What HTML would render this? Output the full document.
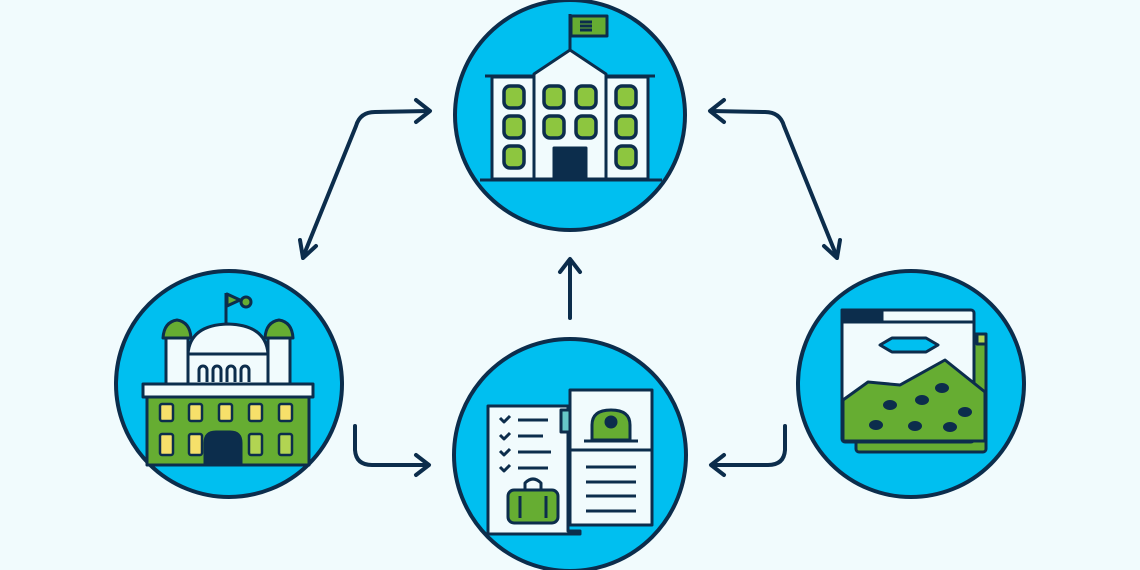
<!DOCTYPE html>
<html><head><meta charset="utf-8"><style>html,body{margin:0;padding:0;background:#f1fbfd}svg{display:block}</style></head><body>
<svg width="1140" height="570" viewBox="0 0 1140 570" xmlns="http://www.w3.org/2000/svg">
<rect width="1140" height="570" fill="#f1fbfd"/>
<g fill="none" stroke="#0c2d4c" stroke-width="4" stroke-linecap="round" stroke-linejoin="round">
<path d="M429 111 L375 112 Q360 112 356 126 L303 257"/><path d="M416 100 L430 111 L416 122"/><path d="M300 240 L303 258 L316 246"/>
<path d="M711 111 L765 112 Q780 112 784 126 L837 257"/><path d="M724 100 L710 111 L724 122"/><path d="M840 240 L837 258 L824 246"/>
<path d="M570 318 L570 260"/><path d="M560 272 L570 259 L580 272"/>
<path d="M355 426 L355 450 Q356 465 372 465 L428 465"/><path d="M416 455 L429 465 L416 475"/>
<path d="M785 426 L785 450 Q784 465 768 465 L712 465"/><path d="M724 455 L711 465 L724 475"/>
</g>
<g fill="#00bff0" stroke="#0c2d4c" stroke-width="4">
<circle cx="570" cy="115" r="115"/><circle cx="229" cy="384" r="113"/><circle cx="911" cy="384" r="113"/><circle cx="570" cy="455" r="116"/>
</g>
<g stroke="#0c2d4c" stroke-width="3" stroke-linejoin="round">
<line x1="570" y1="50" x2="570" y2="14" />
<rect x="571" y="16" width="36" height="20" fill="#66ad32"/>
<path d="M592 22h-12M592 26h-12M592 30h-12" fill="none"/>
<rect x="492" y="77" width="42" height="102" fill="#f1fbfd"/>
<rect x="606" y="77" width="42" height="102" fill="#f1fbfd"/>
<path d="M534 179 V74 L570 50 L606 74 V179 Z" fill="#f1fbfd"/>
<line x1="485" y1="76" x2="534" y2="76"/><line x1="606" y1="76" x2="655" y2="76"/>
<line x1="480" y1="180" x2="662" y2="180"/>
<rect x="554" y="148" width="32" height="31" fill="#0c2d4c"/>
<g fill="#8dc63f" stroke-width="3.5">
<rect x="504" y="86" width="20" height="22" rx="6"/><rect x="544" y="86" width="20" height="22" rx="6"/><rect x="576" y="86" width="20" height="22" rx="6"/><rect x="616" y="86" width="20" height="22" rx="6"/>
<rect x="504" y="116" width="20" height="22" rx="6"/><rect x="544" y="116" width="20" height="22" rx="6"/><rect x="576" y="116" width="20" height="22" rx="6"/><rect x="616" y="116" width="20" height="22" rx="6"/>
<rect x="504" y="146" width="20" height="22" rx="6"/><rect x="616" y="146" width="20" height="22" rx="6"/>
</g></g>
<g stroke="#0c2d4c" stroke-width="3" stroke-linejoin="round">
<line x1="226" y1="330" x2="226" y2="293"/><path d="M227 294 L240 300 L227 306Z" fill="#66ad32"/><circle cx="246" cy="302" r="5" fill="#66ad32"/>
<path d="M188 354 Q190 325 228 324 Q266 325 268 354Z" fill="#f1fbfd"/>
<rect x="188" y="354" width="80" height="30" fill="#f1fbfd"/>
<rect x="166" y="337" width="22" height="48" fill="#f1fbfd"/><rect x="268" y="337" width="22" height="48" fill="#f1fbfd"/>
<path d="M163 338 Q164 322 177 320 Q190 322 191 338Z" fill="#66ad32"/><path d="M265 338 Q266 322 279 320 Q292 322 293 338Z" fill="#66ad32"/>
<path d="M199 382v-12a4 4 0 0 1 8 0v12M213 382v-12a4 4 0 0 1 8 0v12M227 382v-12a4 4 0 0 1 8 0v12M241 382v-12a4 4 0 0 1 8 0v12" fill="none"/>
<rect x="143" y="384" width="170" height="13" fill="#f1fbfd"/>
<rect x="147" y="397" width="162" height="68" fill="#66ad32"/>
<path d="M205 465 V443 Q205 432 216 432 h14 Q241 432 241 443 V465Z" fill="#0c2d4c"/>
<g fill="#f6e06a" stroke-width="2.5">
<rect x="160" y="404" width="13" height="17" rx="2"/><rect x="189" y="404" width="13" height="17" rx="2"/><rect x="219" y="404" width="13" height="17" rx="2"/><rect x="249" y="404" width="13" height="17" rx="2"/><rect x="279" y="404" width="13" height="17" rx="2"/>
<rect x="160" y="434" width="13" height="21" rx="2"/><rect x="189" y="434" width="13" height="21" rx="2"/><rect x="249" y="434" width="13" height="21" rx="2" fill="#b2d452"/><rect x="279" y="434" width="13" height="21" rx="2" fill="#b2d452"/>
</g></g>
<g stroke="#0c2d4c" stroke-width="3" stroke-linejoin="round">
<rect x="856" y="334" width="130" height="118" rx="3" fill="#66ad32"/>
<rect x="977" y="334" width="9" height="10" fill="#b2d452"/>
<rect x="842" y="310" width="132" height="132" rx="3" fill="#f1fbfd"/>
<rect x="842" y="310" width="40" height="11" fill="#0c2d4c"/>
<line x1="842" y1="322" x2="974" y2="322"/>
<path d="M880 345 L892 338 L926 338 L938 345 L926 352 L892 352Z" fill="#00bff0"/>
<path d="M843 400 L868 382 L900 385 L945 360 L985 392 L985 441 L843 441Z" fill="#66ad32"/>
<g fill="#0c2d4c" stroke="none"><ellipse cx="876" cy="425" rx="7" ry="5"/><ellipse cx="890" cy="405" rx="7" ry="5"/><ellipse cx="922" cy="400" rx="7" ry="5"/><ellipse cx="942" cy="388" rx="7" ry="5"/><ellipse cx="965" cy="412" rx="7" ry="5"/><ellipse cx="915" cy="426" rx="7" ry="5"/><ellipse cx="950" cy="427" rx="7" ry="5"/></g>
</g>
<g stroke="#0c2d4c" stroke-width="3" stroke-linejoin="round">
<path d="M488 406 H568 V531 H580 V534 H488Z" fill="#f1fbfd"/>
<rect x="561" y="410" width="13" height="22" fill="#66c6c8"/>
<rect x="570" y="390" width="82" height="135" fill="#f1fbfd"/>
<line x1="570" y1="450" x2="652" y2="450"/>
<path d="M592 440 V425 Q592 410 611 410 Q630 410 630 425 V440Z" fill="#66ad32"/>
<circle cx="611" cy="422" r="5" fill="#0c2d4c"/>
<line x1="584" y1="441" x2="638" y2="441"/>
<g fill="none"><path d="M500 418l4 4 6-6M500 435l4 4 6-6M500 451l4 4 6-6M500 467l4 4 6-6"/>
<path d="M518 420h30M518 436h25M518 452h33M518 468h30M586 467h50M586 482h50M586 496h50M586 511h50"/></g>
<rect x="508" y="490" width="50" height="33" rx="6" fill="#66ad32"/>
<path d="M525 490 V483 Q533 475 541 483 V490" fill="none"/>
<line x1="520" y1="496" x2="520" y2="518"/><line x1="546" y1="496" x2="546" y2="518"/>
</g>
</svg>
</body></html>
